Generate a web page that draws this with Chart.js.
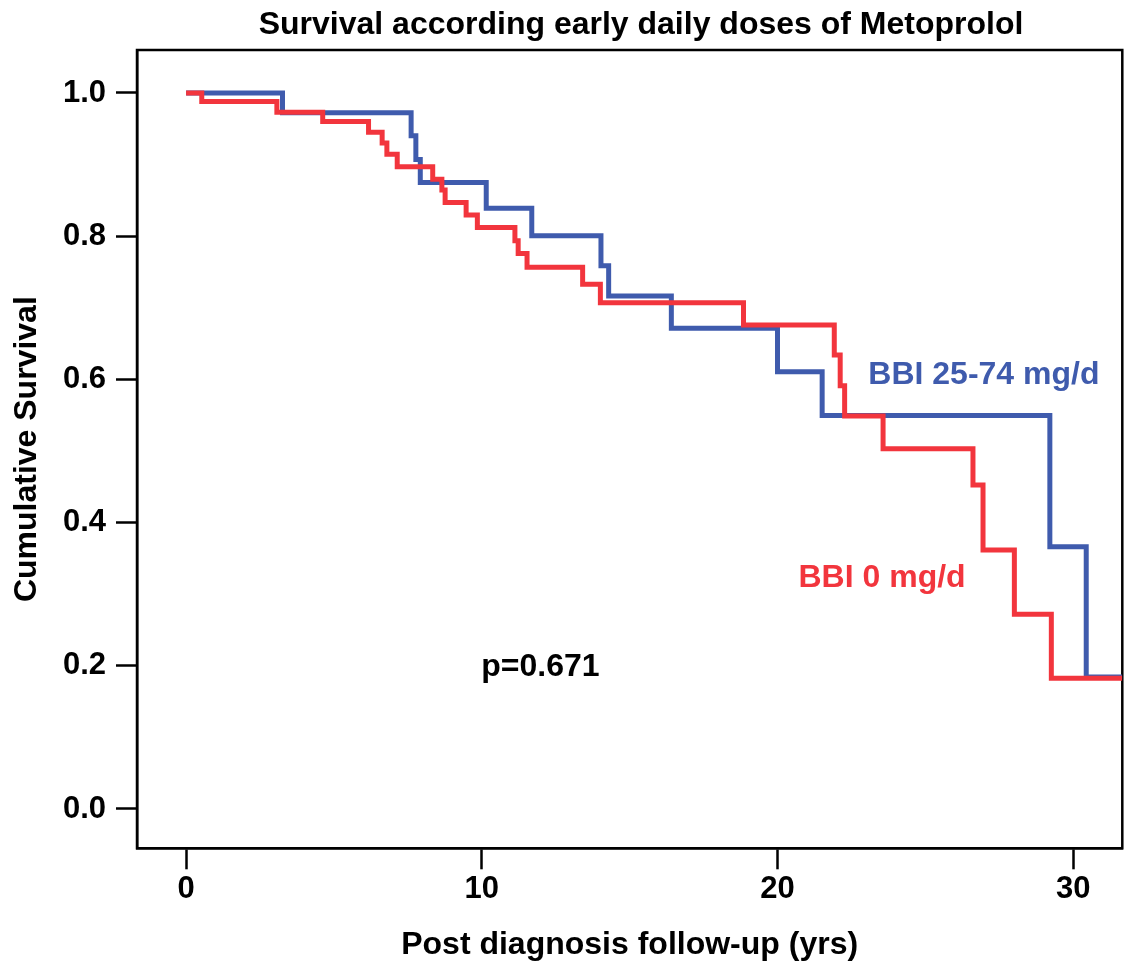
<!DOCTYPE html>
<html><head><meta charset="utf-8">
<script src="https://cdn.jsdelivr.net/npm/chart.js@4/dist/chart.umd.min.js"></script>
<style>html,body{margin:0;padding:0;background:#fff}#wrap{width:1125px;height:968px}</style>
</head><body><div id="wrap"><canvas id="c" width="1125" height="968"></canvas></div>
<script>
const chartTitle = 'Survival according early daily doses of Metoprolol';
const xAxisTitle = 'Post diagnosis follow-up (yrs)';
const yAxisTitle = 'Cumulative Survival';
const seriesNames = ['BBI 0 mg/d', 'BBI 25-74 mg/d'];
const pValueText = 'p=0.671';

// BBI 0 mg/d (red) – event times (yrs) and survival after each step
const redTimes = [0, 0.53, 3.07, 4.62, 6.17, 6.63, 6.79, 7.14, 8.34, 8.65, 8.76, 9.47, 9.85, 11.12, 11.23, 11.53, 13.41, 14.01, 18.85, 21.92, 22.12, 22.27, 23.57, 26.61, 26.95, 28.01, 29.26, 31.66];
const redSurv  = [1.0, 0.988, 0.973, 0.960, 0.945, 0.930, 0.9145, 0.897, 0.8795, 0.8645, 0.847, 0.8296, 0.812, 0.7937, 0.7758, 0.7566, 0.733, 0.707, 0.676, 0.634, 0.591, 0.549, 0.503, 0.4525, 0.3617, 0.272, 0.1825, 0.1825];

// BBI 25-74 mg/d (blue)
const blueTimes = [0, 3.26, 7.61, 7.77, 7.92, 10.15, 11.69, 14.03, 14.29, 16.41, 20.00, 21.51, 29.21, 30.44, 31.66];
const blueSurv  = [1.0, 0.9725, 0.9404, 0.9071, 0.875, 0.839, 0.8006, 0.7588, 0.7165, 0.6714, 0.6108, 0.5496, 0.3663, 0.1844, 0.1844];

const xTicks = [0, 10, 20, 30];
const yTicks = [0.0, 0.2, 0.4, 0.6, 0.8, 1.0];
const xRange = [-1.66, 31.66];
const yRange = [-0.0549, 1.060];

const RED = '#F2353D';
const BLUE = '#3F5BAD';
const FONT = "'Liberation Sans', Arial, Helvetica, sans-serif";

const toPts = (xs, ys) => xs.map((x, i) => ({x: x, y: ys[i]}));

const annotations = [
  {text: seriesNames[1], color: BLUE, x: 23.07, y: 0.593},
  {text: seriesNames[0], color: RED, x: 20.71, y: 0.310},
  {text: pValueText, color: '#000', x: 9.98, y: 0.186}
];

const framePlugin = {
  id: 'frame',
  beforeDatasetsDraw(chart) {
    const {ctx, chartArea: a} = chart;
    ctx.save();
    ctx.strokeStyle = '#000';
    ctx.lineWidth = 2.5;
    ctx.strokeRect(a.left, a.top, a.right - a.left, a.bottom - a.top);
    ctx.restore();
  },
  afterDatasetsDraw(chart) {
    const {ctx, scales} = chart;
    ctx.save();
    ctx.font = 'bold 32px ' + FONT;
    ctx.textAlign = 'left';
    ctx.textBaseline = 'alphabetic';
    annotations.forEach(a => {
      ctx.fillStyle = a.color;
      ctx.fillText(a.text, scales.x.getPixelForValue(a.x), scales.y.getPixelForValue(a.y));
    });
    ctx.font = 'bold 32px ' + FONT;
    ctx.fillStyle = '#000';
    ctx.textAlign = 'center';
    ctx.fillText(chartTitle, 641, 34);
    ctx.restore();
  }
};

new Chart(document.getElementById('c'), {
  type: 'line',
  data: {
    datasets: [
      {label: seriesNames[0], data: toPts(redTimes, redSurv), borderColor: RED, borderWidth: 5, stepped: 'before', pointRadius: 0, fill: false, order: 0, borderJoinStyle: 'miter', borderCapStyle: 'butt'},
      {label: seriesNames[1], data: toPts(blueTimes, blueSurv), borderColor: BLUE, borderWidth: 5, stepped: 'before', pointRadius: 0, fill: false, order: 1, borderJoinStyle: 'miter', borderCapStyle: 'butt'}
    ]
  },
  options: {
    responsive: false,
    animation: false,
    devicePixelRatio: 1,
    layout: {padding: {top: 50, left: 0, right: 2.7, bottom: 0}},
    plugins: {legend: {display: false}, tooltip: {enabled: false}, title: {display: false}},
    scales: {
      x: {
        type: 'linear', min: xRange[0], max: xRange[1],
        afterBuildTicks: s => { s.ticks = xTicks.map(v => ({value: v})); },
        afterFit: s => { s.height = 119.7; },
        ticks: {color: '#000', font: {family: FONT, size: 31, weight: 'bold'}, padding: 2, callback: v => String(v), maxRotation: 0},
        grid: {display: true, drawOnChartArea: false, drawTicks: true, tickLength: 21, tickWidth: 2.5, tickColor: '#000'},
        border: {display: true, color: '#000', width: 2.5},
        title: {display: true, text: xAxisTitle, color: '#000', font: {family: FONT, size: 32, weight: 'bold'}, padding: {top: 0, bottom: 4}}
      },
      y: {
        type: 'linear', min: yRange[0], max: yRange[1],
        afterBuildTicks: s => { s.ticks = yTicks.map(v => ({value: v})); },
        afterFit: s => { s.width = 137; },
        ticks: {color: '#000', font: {family: FONT, size: 31, weight: 'bold'}, padding: 10, callback: v => Number(v).toFixed(1)},
        grid: {display: true, drawOnChartArea: false, drawTicks: true, tickLength: 21, tickWidth: 2.5, tickColor: '#000'},
        border: {display: true, color: '#000', width: 2.5},
        title: {display: true, text: yAxisTitle, color: '#000', font: {family: FONT, size: 32, weight: 'bold'}, padding: {top: 8, bottom: 0}}
      }
    }
  },
  plugins: [framePlugin]
});
</script></body></html>
